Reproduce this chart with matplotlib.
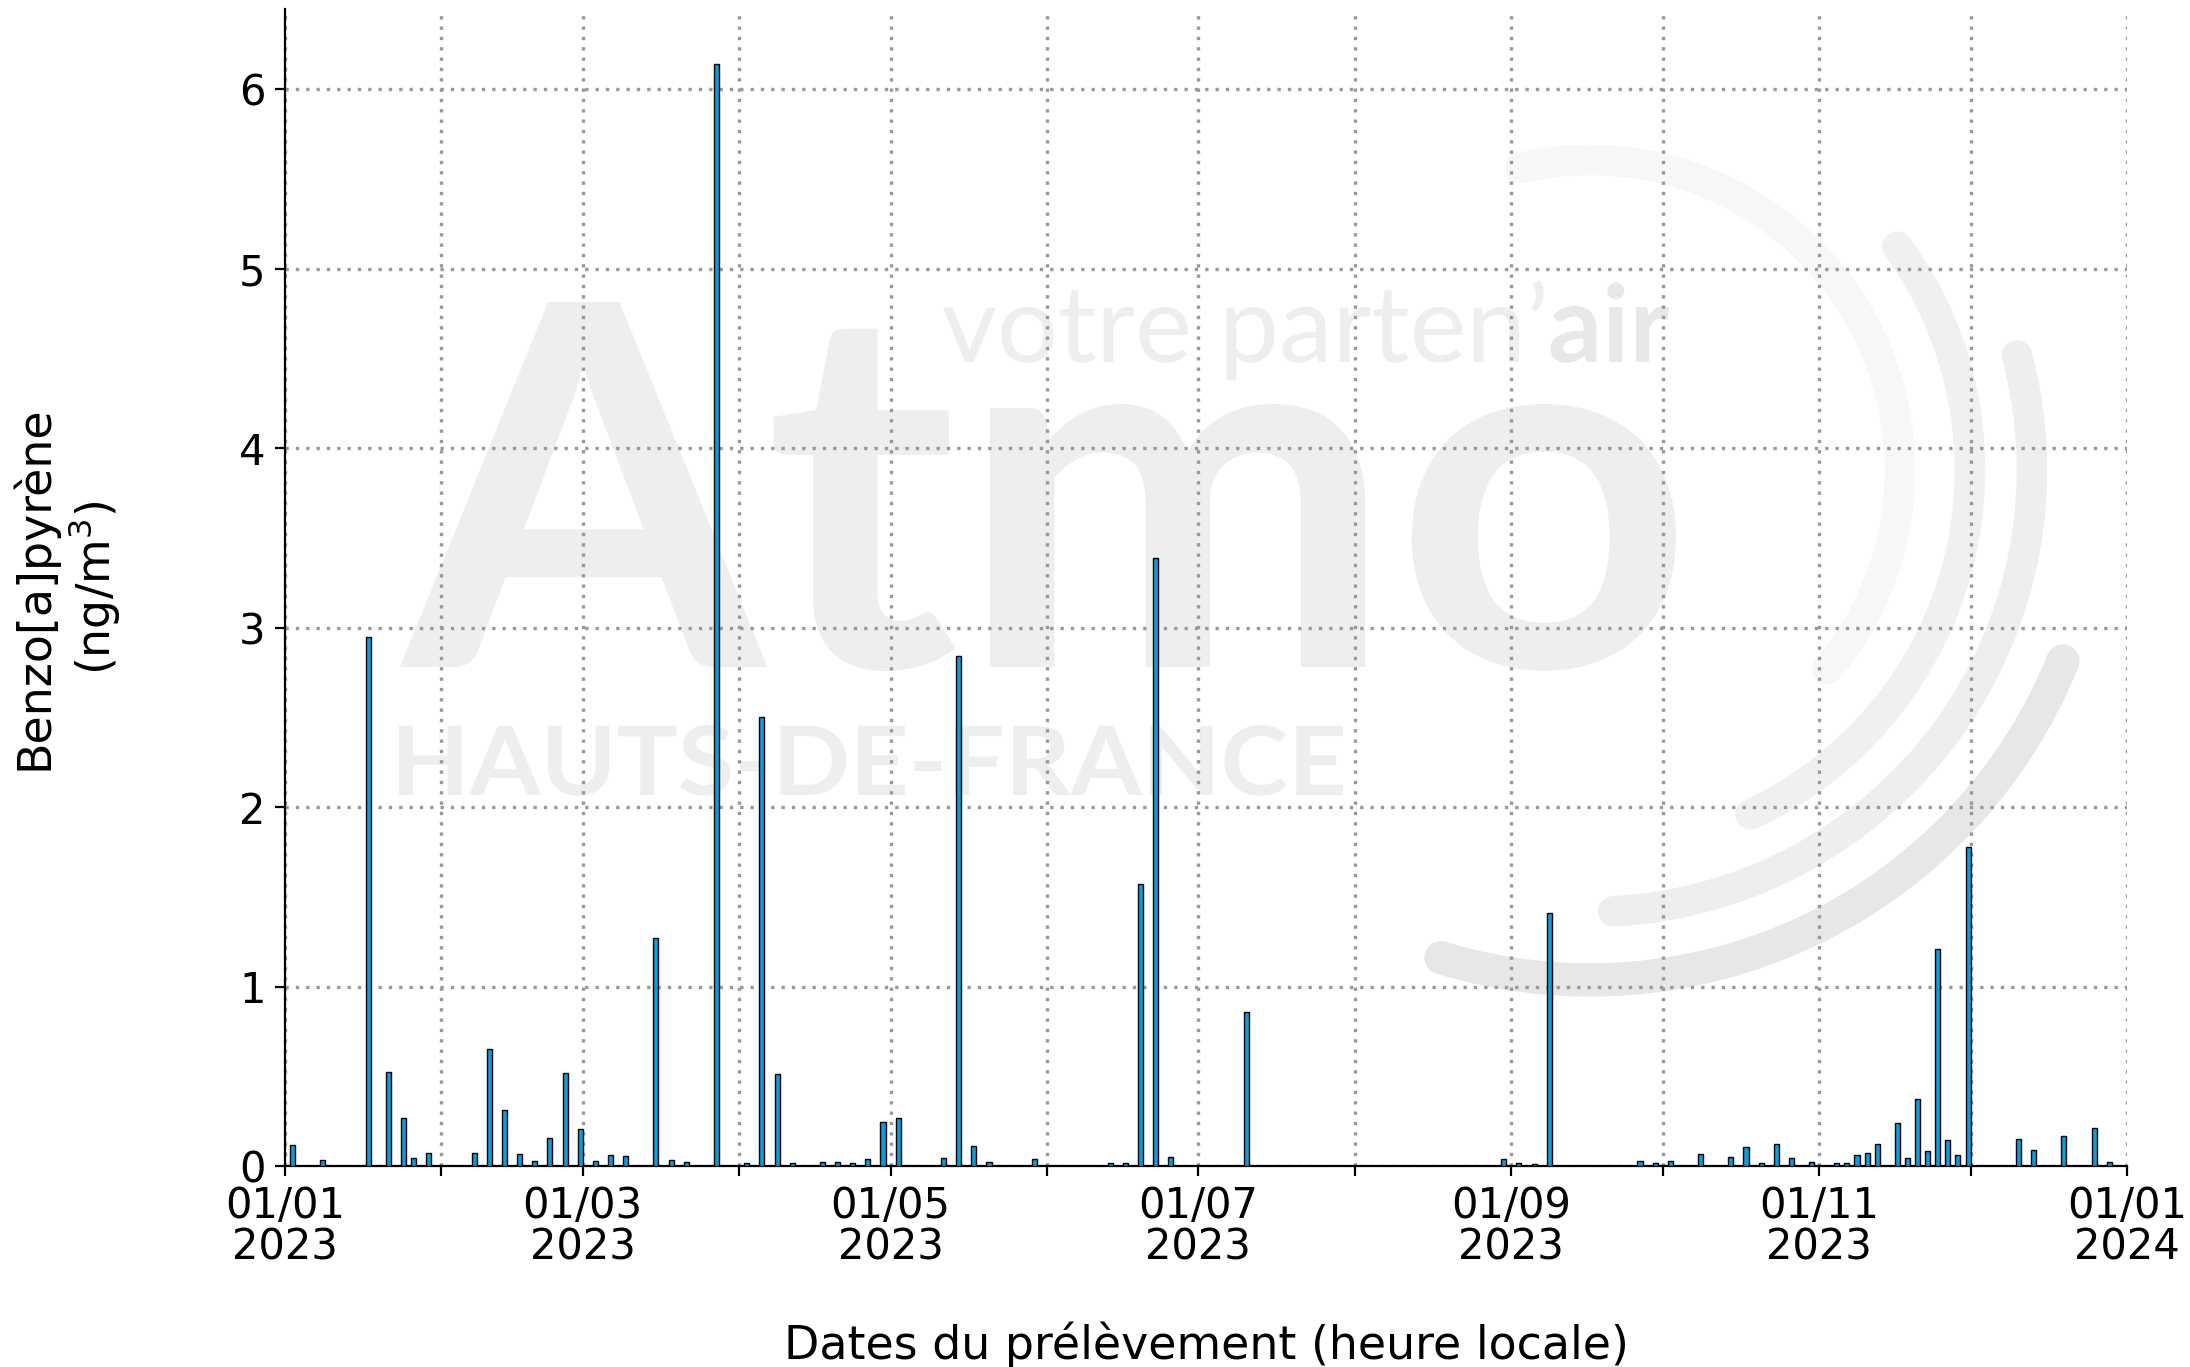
import numpy as np
import pandas as pd
import matplotlib
matplotlib.use('Agg')
import matplotlib.pyplot as plt
import matplotlib.dates as mdates
from matplotlib.patches import Arc, PathPatch
from matplotlib.textpath import TextPath
from matplotlib.font_manager import FontProperties
from matplotlib.transforms import Affine2D

# sampling days (offset from 01/01/2023) and B[a]P concentrations (ng/m3)
sample_day = [1, 4, 7, 10, 13, 16, 20, 23, 25, 28,
              31, 34, 37, 40, 43, 46, 49, 52, 55, 58,
              61, 64, 67, 70, 73, 76, 79, 82, 85, 88,
              91, 94, 97, 100, 103, 106, 109, 112, 115, 118,
              121, 124, 127, 130, 133, 136, 139, 142, 145, 148,
              151, 154, 157, 160, 163, 166, 169, 172, 175, 178,
              181, 184, 187, 190, 193, 196, 199, 202, 205, 208,
              211, 214, 217, 220, 223, 226, 229, 232, 235, 238,
              241, 244, 247, 250, 253, 256, 259, 262, 265, 268,
              271, 274, 277, 280, 283, 286, 289, 292, 295, 298,
              300, 302, 305, 307, 309, 311, 313, 315, 317, 319,
              321, 323, 325, 327, 329, 331, 333, 336, 340, 343,
              346, 349, 352, 355, 358, 361, 364]
bap = [0.115, 0, 0.033, 0, 0, 2.95, 0.524, 0.268, 0.045, 0.071,
       0, 0, 0.072, 0.65, 0.314, 0.067, 0.026, 0.156, 0.518, 0.206,
       0.03, 0.061, 0.054, 0, 1.27, 0.035, 0.02, 0, 6.14, 0,
       0.015, 2.50, 0.515, 0.015, 0, 0.02, 0.024, 0.017, 0.041, 0.245,
       0.266, 0, 0, 0.046, 2.84, 0.11, 0.02, 0, 0, 0.037,
       0, 0, 0, 0, 0.015, 0.015, 1.57, 3.39, 0.048, 0,
       0, 0, 0, 0.86, 0, 0, 0, 0, 0, 0,
       0, 0, 0, 0, 0, 0, 0, 0, 0, 0,
       0.037, 0.015, 0.013, 1.41, 0, 0, 0, 0, 0, 0.028,
       0.017, 0.026, 0, 0.069, 0, 0.048, 0.104, 0.015, 0.121, 0.042,
       0, 0.022, 0, 0.015, 0.015, 0.06, 0.07, 0.125, 0, 0.238,
       0.042, 0.372, 0.082, 1.21, 0.147, 0.06, 1.78, 0, 0, 0.149,
       0.089, 0, 0.165, 0, 0.214, 0.024, 0]

dates = pd.Timestamp('2023-01-01') + pd.to_timedelta(sample_day, unit='D')

W, H = 2190, 1367
fig = plt.figure(figsize=(W / 200, H / 200), dpi=200)

# ---- watermark layer (pixel coords, y up) ----
wm = fig.add_axes([0, 0, 1, 1], zorder=0)
wm.set_xlim(0, W)
wm.set_ylim(0, H)
wm.axis('off')


def logo_text(parts, x0, x1, y_base, color_list, y_top=None):
    # parts: list of (text, weight); placed side by side then fitted to box
    paths = []
    xpos = 0
    for txt, weight in parts:
        tp = TextPath((xpos, 0), txt, size=100,
                      prop=FontProperties(family='Lato', weight=weight))
        paths.append(tp)
        xpos = tp.get_extents().x1 + 4
    xmin = min(p.get_extents().x0 for p in paths)
    xmax = max(p.get_extents().x1 for p in paths)
    sx = (x1 - x0) / (xmax - xmin)
    if y_top is None:
        sy = sx
    else:
        sy = (y_top - y_base) / max(p.get_extents().y1 for p in paths)
    tr = Affine2D().translate(-xmin, 0).scale(sx, sy).translate(x0, y_base)
    for p, c in zip(paths, color_list):
        wm.add_patch(PathPatch(tr.transform_path(p), fc=c, ec='none'))


logo_text([('Atmo', 'bold')], 400, 1676, H - 667, ['#eeeeee'], y_top=H - 302)
logo_text([('votre parten\u2019', 'normal'), ('air', 'bold')], 943, 1669, H - 362,
          ['#eeeeee', '#e8e8e8'])
logo_text([('HAUTS-DE-FRANCE', 'bold')], 399, 1343, H - 795, ['#eeeeee'],
          y_top=H - 725)

cx, cy = 1590, H - 470
for r, t1, t2, col, lw in [(310, -40, 103, '#f7f7f7', 11),
                           (380, -65, 36, '#f0f0f0', 11),
                           (442, -87, 15, '#eeeeee', 11),
                           (510, -107, -22, '#e7e7e5', 12)]:
    arc = Arc((cx, cy), 2 * r, 2 * r, theta1=t1, theta2=t2, color=col,
              linewidth=lw, capstyle='round')
    wm.add_patch(arc)

# ---- main chart ----
ax = fig.add_axes([285 / W, 201 / H, (2127 - 285) / W, (1166 - 9) / H], zorder=1)
ax.patch.set_alpha(0)

ax.bar(dates, bap, width=1, align='edge', color='#0f9bd7',
       edgecolor='black', linewidth=0.5, zorder=3)

ax.set_xlim(pd.Timestamp('2023-01-01'), pd.Timestamp('2024-01-01'))
ax.xaxis.set_major_locator(mdates.MonthLocator(bymonth=[1, 3, 5, 7, 9, 11]))
ax.xaxis.set_major_formatter(mdates.DateFormatter('%d/%m\n%Y'))
ax.xaxis.set_minor_locator(mdates.MonthLocator())
ax.tick_params(which='both', length=3.5, width=0.8, labelsize=15)
for lbl in ax.get_xticklabels():
    lbl.set_linespacing(0.98)

dots = (0, (1, 2.1))
ax.set_axisbelow(True)
ax.grid(True, which='both', axis='x', color='#999999', linestyle=dots, linewidth=1.2)
ax.grid(True, which='major', axis='y', color='#999999', linestyle=dots, linewidth=1.2)

ax.spines['top'].set_visible(False)
ax.spines['right'].set_visible(False)

ax.set_ylabel('Benzo[a]pyrène\n(ng/m$^3$)', fontsize=16.5, labelpad=42)
ax.set_xlabel('Dates du prélèvement (heure locale)', fontsize=16.5, labelpad=19)

fig.savefig('out.png', dpi=200)
